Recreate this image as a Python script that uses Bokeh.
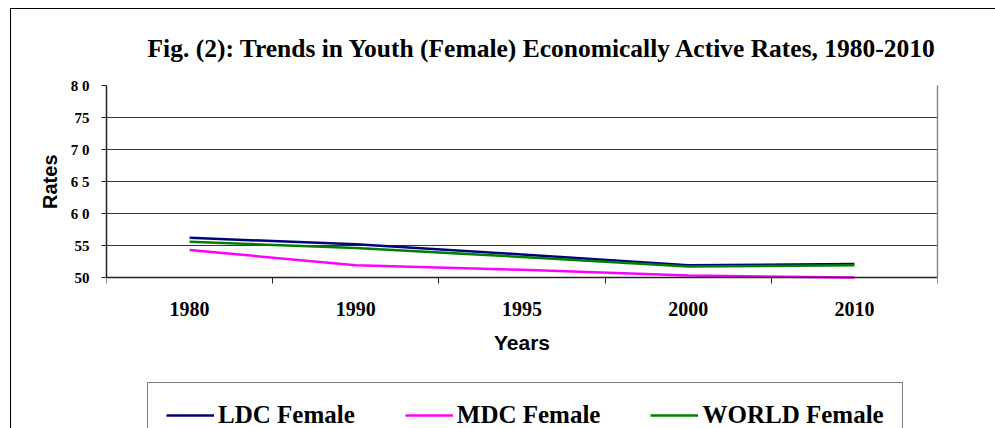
from bokeh.plotting import figure
from bokeh.models import FixedTicker, Legend, LegendItem, Range1d, LinearAxis, Grid, Title
from bokeh.embed import file_html
from bokeh.resources import INLINE

years = ["1980", "1990", "1995", "2000", "2010"]
ldc_female = [56.2, 55.2, 53.6, 51.9, 52.1]
mdc_female = [54.3, 51.9, 51.2, 50.3, 50.0]
world_female = [55.6, 54.6, 53.2, 51.7, 51.9]
y_ticks = [50, 55, 60, 65, 70, 75, 80]
y_tick_labels = ["50", "55", "6 0", "6 5", "7 0", "75", "8 0"]

xs = [i + 0.5 for i in range(len(years))]
bounds = list(range(len(years) + 1))

# layout sizes (pixels)
PLOT_H = 192          # height of the 50..80 data band
FRAME_H = 347         # frame extends below the band to hold axis labels and legend
y_lo, y_hi = y_ticks[0], y_ticks[-1]
y_start = y_hi - (y_hi - y_lo) * FRAME_H / PLOT_H

p = figure(frame_width=831, frame_height=FRAME_H, output_backend="svg", toolbar_location=None,
           x_range=Range1d(0, len(years)), y_range=Range1d(y_start, y_hi),
           min_border_left=95, min_border_right=58, min_border_top=72, min_border_bottom=0)
p.margin = (8, 0, 0, 10)
p.styles = {"border-left": "1px solid #000", "border-top": "1px solid #000"}

p.title.text = "Fig. (2): Trends in Youth (Female) Economically Active Rates, 1980-2010"
p.title.text_font = "Liberation Serif"
p.title.text_font_size = "25.5px"
p.title.text_font_style = "bold"
p.title.text_color = "#000000"
p.title.align = "left"
p.title.offset = 41
p.title.standoff = 45

p.outline_line_color = None

# x axis, drawn at the bottom of the data band
xa = p.xaxis[0]
xa.fixed_location = y_lo
xa.ticker = FixedTicker(ticks=xs, minor_ticks=bounds)
xa.major_label_overrides = {x: y for x, y in zip(xs, years)}
xa.major_tick_out = 0
xa.major_tick_in = 0
xa.minor_tick_out = 6
xa.minor_tick_in = 0
xa.minor_tick_line_color = "#222222"
xa.axis_line_color = "#222222"
xa.axis_line_width = 1.5
xa.major_label_text_font = "Liberation Serif"
xa.major_label_text_font_style = "bold"
xa.major_label_text_font_size = "20px"
xa.major_label_text_color = "#000000"
xa.major_label_standoff = 18
xa.axis_label = "Years"
xa.axis_label_text_font = "Liberation Sans"
xa.axis_label_text_font_style = "bold"
xa.axis_label_text_font_size = "21px"
xa.axis_label_text_color = "#000000"
xa.axis_label_standoff = 12

# y axis
ya = p.yaxis[0]
ya.bounds = (y_lo, y_hi)
ya.ticker = FixedTicker(ticks=y_ticks, minor_ticks=[])
ya.major_label_overrides = {t: l for t, l in zip(y_ticks, y_tick_labels)}
ya.major_tick_out = 5
ya.major_tick_in = 0
ya.major_tick_line_color = "#222222"
ya.axis_line_color = "#222222"
ya.axis_line_width = 1.5
ya.major_label_text_font = "Liberation Serif"
ya.major_label_text_font_style = "bold"
ya.major_label_text_font_size = "15px"
ya.major_label_text_color = "#000000"
ya.major_label_standoff = 12
ya.axis_label = None

# y axis title, aligned to the top of the data band
y_title = Title(text="Rates", align="right", offset=69, standoff=14,
                text_font="Liberation Sans", text_font_size="20px",
                text_font_style="bold", text_color="#000000")
p.add_layout(y_title, "left")

# right edge of the plot area
right_edge = LinearAxis(bounds=(y_lo, y_hi), ticker=FixedTicker(ticks=[], minor_ticks=[]),
                        axis_line_color="#888888", axis_line_width=1.5,
                        major_tick_line_color=None, minor_tick_line_color=None)
p.add_layout(right_edge, "right")

p.xgrid.grid_line_color = None
p.ygrid.ticker = FixedTicker(ticks=y_ticks[:-1])
p.ygrid.grid_line_color = "#333333"
p.ygrid.grid_line_width = 1.2
p.ygrid.grid_line_alpha = 1.0
top_edge = Grid(dimension=1, ticker=FixedTicker(ticks=[y_hi]),
                grid_line_color="#888888", grid_line_width=1.5)
p.add_layout(top_edge)

r1 = p.line(xs, ldc_female, line_color="#000080", line_width=2.5)
r2 = p.line(xs, mdc_female, line_color="#FF00FF", line_width=2.5)
r3 = p.line(xs, world_female, line_color="#008000", line_width=2.5)

legend = Legend(items=[LegendItem(label="LDC Female", renderers=[r1]),
                       LegendItem(label="MDC Female", renderers=[r2]),
                       LegendItem(label="WORLD Female", renderers=[r3])],
                orientation="horizontal", location=(41, -16))
legend.label_text_font = "Liberation Serif"
legend.label_text_font_style = "bold"
legend.label_text_font_size = "25px"
legend.label_text_color = "#000000"
legend.glyph_width = 48
legend.label_standoff = 4
legend.spacing = 50
legend.padding = 18
legend.margin = 0
legend.border_line_color = "#000000"
legend.border_line_width = 1
legend.background_fill_alpha = 1
p.add_layout(legend, "center")

open("out.html", "w").write(file_html(p, INLINE))
